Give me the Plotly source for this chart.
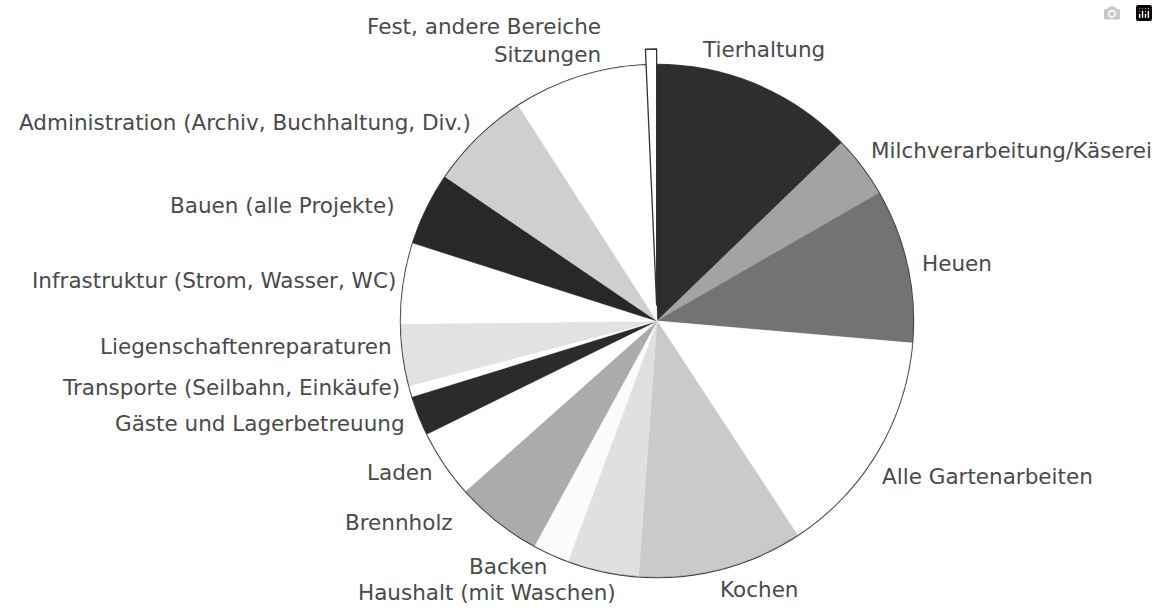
import plotly.graph_objects as go

# ---- data (% of working time, clockwise from 12 o'clock)
categories = [
    "Tierhaltung",
    "Milchverarbeitung/Käserei",
    "Heuen",
    "Alle Gartenarbeiten",
    "Kochen",
    "Haushalt (mit Waschen)",
    "Backen",
    "Brennholz",
    "Laden",
    "Gäste und Lagerbetreuung",
    "Transporte (Seilbahn, Einkäufe)",
    "Liegenschaftenreparaturen",
    "Infrastruktur (Strom, Wasser, WC)",
    "Bauen (alle Projekte)",
    "Administration (Archiv, Buchhaltung, Div.)",
    "Sitzungen",
    "Fest, andere Bereiche",
]
values = [12.8, 3.9, 9.7, 14.4, 10.4, 4.5, 2.3, 5.5, 4.3, 2.5, 0.7, 3.9, 5.1, 4.6, 6.4, 8.4, 0.7]

# ---- styles
slice_colors = [
    "#2e2e2e", "#a3a3a3", "#737373", "#ffffff", "#cacaca", "#e0e0e0",
    "#fbfbfb", "#ababab", "#ffffff", "#2b2b2b", "#ffffff", "#e2e2e2",
    "#ffffff", "#282828", "#cfcfcf", "#ffffff", "#ffffff",
]
pulls = [0] * (len(values) - 1) + [0.0625]
line_colors = slice_colors[:-1] + ["#333333"]
line_widths = [0.6] * (len(values) - 1) + [1.3]

W, H = 1158, 611
CX, CY, R = 657, 321, 256  # pixel centre / radius of the pie


def dom(half):
    return dict(
        x=[(CX - half) / W, (CX + half) / W],
        y=[(H - CY - half) / H, (H - CY + half) / H],
    )


fig = go.Figure()

# outer circle outline (single full slice, no radial edges)
fig.add_trace(go.Pie(
    values=[1], labels=["outline"], sort=False,
    marker=dict(colors=["rgba(0,0,0,0)"], line=dict(color="#3c3c3c", width=2.4)),
    textinfo="none", hoverinfo="skip", showlegend=False,
    domain=dom(R),
))

fig.add_trace(go.Pie(
    labels=categories, values=values, sort=False,
    direction="clockwise", rotation=0,
    marker=dict(colors=slice_colors, line=dict(color=line_colors, width=line_widths)),
    pull=pulls, textinfo="none", showlegend=False,
    hovertemplate="%{label}: %{value}%<extra></extra>",
    domain=dom(R * (1 + max(pulls))),
))

# ---- label placement (pixel anchors); the two top labels share one text block
label_pos = {
    "Fest, andere Bereiche<br>Sitzungen": (603, 40, "right"),
    "Tierhaltung": (700, 50, "left"),
    "Milchverarbeitung/Käserei": (869, 150, "left"),
    "Heuen": (920, 263, "left"),
    "Alle Gartenarbeiten": (880, 476, "left"),
    "Kochen": (718, 589, "left"),
    "Backen": (508, 566, "center"),
    "Haushalt (mit Waschen)": (487, 592, "center"),
    "Brennholz": (455, 522, "right"),
    "Laden": (435, 472, "right"),
    "Gäste und Lagerbetreuung": (407, 424, "right"),
    "Transporte (Seilbahn, Einkäufe)": (402, 387, "right"),
    "Liegenschaftenreparaturen": (394, 346, "right"),
    "Infrastruktur (Strom, Wasser, WC)": (398, 280, "right"),
    "Bauen (alle Projekte)": (397, 205, "right"),
    "Administration (Archiv, Buchhaltung, Div.)": (473, 122, "right"),
}

for text, (px, py, anchor) in label_pos.items():
    fig.add_annotation(
        text=text, x=px / W, y=1 - py / H, xref="paper", yref="paper",
        xanchor=anchor, yanchor="middle", align=anchor, showarrow=False,
        font=dict(family="DejaVu Sans", size=21.5, color="#4a4a4a"),
    )

fig.update_layout(
    width=W, height=H, margin=dict(l=0, r=0, t=0, b=0),
    paper_bgcolor="white", plot_bgcolor="white", showlegend=False,
)

fig.write_html("out.html", post_script="document.body.style.margin='0';")
